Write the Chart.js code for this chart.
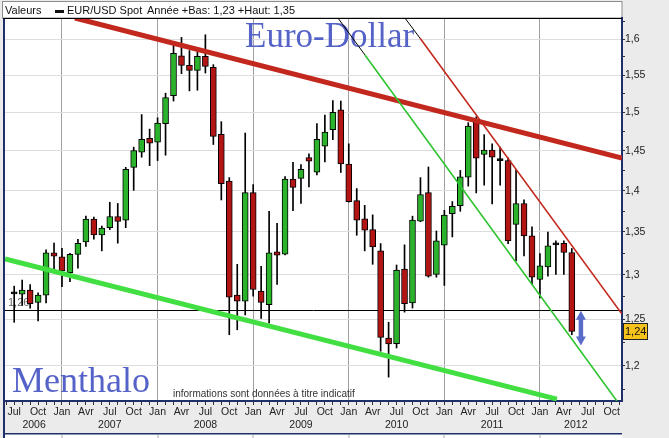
<!DOCTYPE html>
<html><head><meta charset="utf-8">
<script src="https://cdn.jsdelivr.net/npm/chart.js@4/dist/chart.umd.min.js"></script>
<style>
html,body{margin:0;padding:0;background:#ebebeb;}
canvas{display:block;}
</style></head><body>
<canvas id="c" width="669" height="438"></canvas>
<script>
// ---- data (monthly EUR/USD candles) ----
const periods = ['2006-07','2006-08','2006-09','2006-10','2006-11','2006-12',
'2007-01','2007-02','2007-03','2007-04','2007-05','2007-06','2007-07','2007-08','2007-09','2007-10','2007-11','2007-12',
'2008-01','2008-02','2008-03','2008-04','2008-05','2008-06','2008-07','2008-08','2008-09','2008-10','2008-11','2008-12',
'2009-01','2009-02','2009-03','2009-04','2009-05','2009-06','2009-07','2009-08','2009-09','2009-10','2009-11','2009-12',
'2010-01','2010-02','2010-03','2010-04','2010-05','2010-06','2010-07','2010-08','2010-09','2010-10','2010-11','2010-12',
'2011-01','2011-02','2011-03','2011-04','2011-05','2011-06','2011-07','2011-08','2011-09','2011-10','2011-11','2011-12',
'2012-01','2012-02','2012-03','2012-04','2012-05'];
const opens = [1.2790,1.2780,1.2826,1.2689,1.2769,1.3254,
1.3209,1.3024,1.3237,1.3383,1.3654,1.3465,1.3551,1.3685,1.3640,1.4291,1.4483,1.4661,
1.4610,1.4852,1.5223,1.5764,1.5634,1.5565,1.5759,1.5606,1.4712,1.4120,1.2769,1.2701,
1.3976,1.2814,1.2663,1.3266,1.3238,1.4145,1.4153,1.4415,1.4231,1.4560,1.4771,1.5032,
1.4333,1.3878,1.3657,1.3527,1.3277,1.2296,1.2236,1.3066,1.2682,1.3630,1.3976,1.3004,
1.3344,1.3719,1.3815,1.4167,1.4869,1.4453,1.4508,1.4382,1.4376,1.3590,1.3843,1.3453,
1.2947,1.3090,1.3348,1.3367,1.3258];
const highs = [1.2871,1.2939,1.2890,1.2795,1.3289,1.3370,
1.3307,1.3249,1.3413,1.3689,1.3677,1.3571,1.3858,1.3843,1.4291,1.4547,1.4970,1.4780,
1.4928,1.5255,1.5921,1.6023,1.5838,1.5843,1.6060,1.5643,1.4877,1.4162,1.3121,1.4729,
1.4075,1.3098,1.3748,1.3602,1.4175,1.4355,1.4325,1.4462,1.4852,1.4962,1.5155,1.5150,
1.4590,1.4026,1.3820,1.3705,1.3363,1.2468,1.3113,1.3348,1.3689,1.4162,1.4295,1.3512,
1.3760,1.3866,1.4252,1.4864,1.4941,1.4708,1.4590,1.4547,1.4410,1.4261,1.3886,1.3562,
1.3246,1.3500,1.3395,1.3395,1.3305];
const lows = [1.2468,1.2655,1.2625,1.2482,1.2682,1.3060,
1.2865,1.2921,1.3075,1.3328,1.3414,1.3277,1.3528,1.3367,1.3551,1.4004,1.4419,1.4312,
1.4376,1.4444,1.5150,1.5519,1.5286,1.5295,1.5528,1.4581,1.3886,1.2332,1.2386,1.2549,
1.2758,1.2511,1.2457,1.2890,1.3231,1.3756,1.3843,1.4047,1.4197,1.4359,1.4644,1.4226,
1.3860,1.3461,1.3277,1.3121,1.2154,1.1880,1.2189,1.2580,1.2625,1.3622,1.2973,1.2973,
1.2879,1.3441,1.3748,1.4056,1.3972,1.4068,1.3839,1.4068,1.3363,1.3160,1.3219,1.2890,
1.2739,1.2985,1.3004,1.3004,1.2332];
const closes = [1.2784,1.2826,1.2674,1.2769,1.3254,1.3215,
1.3044,1.3237,1.3366,1.3654,1.3465,1.3547,1.3685,1.3626,1.4265,1.4504,1.4648,1.4597,
1.4860,1.5195,1.5801,1.5634,1.5565,1.5759,1.5620,1.4686,1.4085,1.2746,1.2701,1.3976,
1.2833,1.2689,1.3254,1.3227,1.4145,1.4040,1.4266,1.4367,1.4648,1.4742,1.5000,1.4333,
1.3866,1.3642,1.3520,1.3324,1.2304,1.2232,1.3055,1.2674,1.3642,1.3953,1.2985,1.3395,
1.3701,1.3807,1.4171,1.4818,1.4406,1.4508,1.4419,1.4376,1.3395,1.3843,1.3453,1.2973,
1.3102,1.3336,1.3355,1.3258,1.2368];

// tick labels
const monthLabels = ['Jan','Avr','Jul','Oct'];
const years = [2006,2007,2008,2009,2010,2011,2012];
const yTicks = [1.175,1.2,1.225,1.25,1.275,1.3,1.325,1.35,1.375,1.4,1.425,1.45,1.475,1.5,1.525,1.55,1.575,1.6,1.625];

// trend lines drawn on the chart (month index from Jul 2006, price)
const channelTopX = [7.63, 76.3],   channelTopY = [1.6299, 1.4408];
const channelLowX = [-1.155, 68.13], channelLowY = [1.3182, 1.1653];
const redFastX = [50.93, 76.3],     redFastY = [1.6014, 1.2559];
const redFastHandleX = [49.05, 50.93], redFastHandleY = [1.6299, 1.6014];
const greenFastX = [44.03, 75.66],  greenFastY = [1.5777, 1.1633];
const greenFastHandleX = [40.64, 44.03], greenFastHandleY = [1.6299, 1.5777];
const supportLevel = 1.26;
const arrowX = 71.14, arrowFrom = 1.2595, arrowTo = 1.2215;

// ---- helpers ----
const X_MIN = -1.155, X_MAX = 76.3, Y_MIN = 1.1633, Y_MAX = 1.6299;
const mIndex = p => { const [y, mo] = p.split('-').map(Number); return (y - 2006) * 12 + (mo - 7); };
const fmt = v => String(parseFloat(v.toFixed(3))).replace('.', ',');
const isMajor = v => v != null && Math.abs(v * 20 - Math.round(v * 20)) < 1e-6;
const moy = m => ((m + 6) % 12 + 12) % 12;
const pts = (xs, ys) => xs.map((x, i) => ({x, y: ys[i]}));

const GREEN = '#2bb42b', RED = '#b31515';
const xs = periods.map(mIndex);
const wickData = xs.map((x, i) => ({x, y: [lows[i], highs[i]]}));
const bodyData = xs.map((x, i) => ({x, y: [opens[i], closes[i]]}));
const bodyColors = xs.map((x, i) => Math.abs(closes[i] - opens[i]) < 0.0012 ? '#000' : (closes[i] >= opens[i] ? GREEN : RED));

const y2012 = periods.map((p, i) => p.startsWith('2012') ? i : -1).filter(i => i >= 0);
const yearLow = Math.min(...y2012.map(i => lows[i]));
const yearHigh = Math.max(...y2012.map(i => highs[i]));
const lastClose = closes[closes.length - 1];

const FONT = 'Liberation Sans';
const NAVY = '#1f2f6c';
const TITLE_BLUE = '#5563c8';

const decor = {
  id: 'decor',
  beforeDraw(chart) {
    const ctx = chart.ctx, a = chart.chartArea;
    ctx.save();
    ctx.fillStyle = '#ebebeb'; ctx.fillRect(0, 0, chart.width, chart.height);
    ctx.fillStyle = '#fff';
    ctx.fillRect(a.left, a.top, a.right - a.left, a.bottom - a.top);
    ctx.fillRect(2, 1, a.right - 2, a.top - 1);
    ctx.strokeStyle = '#8c8c8c'; ctx.lineWidth = 1;
    ctx.strokeRect(2.5, 1.5, a.right - 2.5, a.top - 1.5);
    // header
    ctx.fillStyle = '#111'; ctx.font = '11px "' + FONT + '"'; ctx.textBaseline = 'alphabetic';
    ctx.fillText('Valeurs', 5, 14);
    ctx.fillRect(55, 10, 9, 3);
    ctx.fillText('EUR/USD Spot', 67, 14);
    ctx.fillText('Année +Bas: ' + fmt(Math.floor(yearLow * 100) / 100) + ' +Haut: ' + fmt(Math.round(yearHigh * 100) / 100), 147, 14);
    // bottom panel
    ctx.fillStyle = '#fff'; ctx.fillRect(3, 434, a.right - 3, 4);
    ctx.fillStyle = NAVY; ctx.fillRect(3, 433, a.right - 3, 1.5);
    ctx.fillStyle = '#a9a9a9';
    const xs_ = chart.scales.x;
    for (let m = Math.ceil(X_MIN); m <= X_MAX; m++) if (moy(m) === 0) ctx.fillRect(Math.round(xs_.getPixelForValue(m)) - 0.5, 435, 1, 3);
    ctx.restore();
  },
  beforeDatasetsDraw(chart) {
    const ctx = chart.ctx, a = chart.chartArea, y = chart.scales.y;
    ctx.save();
    ctx.fillStyle = TITLE_BLUE;
    ctx.textBaseline = 'alphabetic';
    ctx.font = '35px "Liberation Serif"';
    ctx.fillText('Euro-Dollar', 245, 47);
    ctx.font = '36px "Liberation Serif"';
    ctx.fillText('Menthalo', 12, 392);
    ctx.fillStyle = '#333'; ctx.font = '10px "' + FONT + '"';
    ctx.fillText('informations sont données à titre indicatif', 173, 397);
    // support level line + label
    const py = Math.round(y.getPixelForValue(supportLevel)) + 0.5;
    ctx.fillStyle = '#666'; ctx.font = '11px "' + FONT + '"'; ctx.textBaseline = 'middle';
    ctx.fillText(fmt(supportLevel), 8, py - 8);
    ctx.strokeStyle = '#000'; ctx.lineWidth = 1;
    ctx.beginPath(); ctx.moveTo(a.left, py); ctx.lineTo(a.right, py); ctx.stroke();
    ctx.restore();
  },
  afterDraw(chart) {
    const ctx = chart.ctx, a = chart.chartArea, x = chart.scales.x, y = chart.scales.y;
    ctx.save();
    // frame
    ctx.fillStyle = NAVY; ctx.fillRect(3, a.top, 2, 438 - a.top);
    ctx.fillStyle = '#000'; ctx.fillRect(3, a.top, a.right - 3, 1);
    // year labels
    ctx.fillStyle = '#222'; ctx.font = '10.5px "' + FONT + '"'; ctx.textAlign = 'center'; ctx.textBaseline = 'middle';
    years.forEach(yr => {
      const jan = (yr - 2006) * 12 - 6;
      const s = Math.max(jan, Math.ceil(X_MIN)), e = Math.min(jan + 12, Math.floor(X_MAX) - 1);
      ctx.fillText(String(yr), x.getPixelForValue((s + e) / 2), 425.5);
    });
    // last price badge
    const ly = y.getPixelForValue(lastClose);
    ctx.fillStyle = '#f6c21c'; ctx.fillRect(a.right + 1, Math.round(ly) - 8, 24, 16);
    ctx.strokeStyle = '#222'; ctx.lineWidth = 1; ctx.strokeRect(a.right + 1.5, Math.round(ly) - 7.5, 24, 16);
    ctx.fillStyle = '#111'; ctx.textAlign = 'left'; ctx.font = '11px "' + FONT + '"';
    ctx.fillText(fmt(Math.round(lastClose * 100) / 100), a.right + 3, Math.round(ly) + 0.5);
    // double arrow
    const ax = x.getPixelForValue(arrowX), ay1 = y.getPixelForValue(arrowFrom), ay2 = y.getPixelForValue(arrowTo);
    ctx.strokeStyle = '#5a6bc9'; ctx.fillStyle = '#5a6bc9'; ctx.lineWidth = 4.5;
    ctx.beginPath(); ctx.moveTo(ax, ay1 + 6); ctx.lineTo(ax, ay2 - 6); ctx.stroke();
    ctx.beginPath(); ctx.moveTo(ax, ay1); ctx.lineTo(ax - 5, ay1 + 9); ctx.lineTo(ax + 5, ay1 + 9); ctx.closePath(); ctx.fill();
    ctx.beginPath(); ctx.moveTo(ax, ay2); ctx.lineTo(ax - 5, ay2 - 9); ctx.lineTo(ax + 5, ay2 - 9); ctx.closePath(); ctx.fill();
    ctx.restore();
  }
};

const lineDs = (xs_, ys_, color, width, order) => ({
  type: 'line', data: pts(xs_, ys_), borderColor: color, borderWidth: width,
  pointRadius: 0, fill: false, tension: 0, order, borderCapStyle: 'butt'
});

new Chart(document.getElementById('c'), {
  type: 'bar',
  data: {
    datasets: [
      { data: wickData, backgroundColor: '#000', borderWidth: 0, barThickness: 1, grouped: false, order: 5 },
      { data: bodyData, backgroundColor: bodyColors, borderColor: '#000', borderWidth: 1, borderSkipped: false,
        barThickness: 6, minBarLength: 2, grouped: false, order: 4 },
      lineDs(channelLowX, channelLowY, '#41df41', 5, 3),
      lineDs(channelTopX, channelTopY, '#c2281d', 5, 3),
      lineDs(greenFastX, greenFastY, '#2fc42f', 1.6, 2),
      lineDs(greenFastHandleX, greenFastHandleY, '#000', 1, 2),
      lineDs(redFastX, redFastY, '#c3291e', 1.6, 2),
      lineDs(redFastHandleX, redFastHandleY, '#000', 1, 2)
    ]
  },
  options: {
    responsive: false, animation: false, devicePixelRatio: 1,
    layout: { padding: { left: 5, top: 18, right: 0, bottom: 0 } },
    plugins: { legend: { display: false }, tooltip: { enabled: false } },
    scales: {
      x: {
        type: 'linear', min: X_MIN, max: X_MAX, bounds: 'data', offset: false,
        afterBuildTicks: s => { const t = []; for (let m = Math.ceil(X_MIN); m <= Math.floor(X_MAX); m++) t.push({ value: m }); s.ticks = t; },
        afterFit: s => { s.height = 37; },
        ticks: { autoSkip: false, maxRotation: 0, minRotation: 0, padding: 1, color: '#222',
          font: { family: FONT, size: 10.5 },
          callback: v => { const k = moy(v); return k % 3 === 0 ? monthLabels[k / 3] : ''; } },
        grid: { offset: false, color: c => (c.tick && moy(c.tick.value) === 0) ? '#a0a0a0' : 'rgba(0,0,0,0)',
          tickColor: '#333', tickLength: 4, lineWidth: 1 },
        border: { color: NAVY, width: 2 }
      },
      y: {
        type: 'logarithmic', position: 'right', min: Y_MIN, max: Y_MAX, bounds: 'data',
        afterBuildTicks: s => { s.ticks = yTicks.map(v => ({ value: v })); },
        afterFit: s => { s.width = 47; },
        ticks: { autoSkip: false, padding: 0, color: '#222', font: { family: FONT, size: 10.5 },
          callback: v => isMajor(v) ? fmt(v) : '' },
        grid: { color: c => (c.tick && isMajor(c.tick.value)) ? '#dddddd' : 'rgba(0,0,0,0)',
          tickColor: '#333', tickLength: 3, lineWidth: 1 },
        border: { color: NAVY, width: 2 }
      }
    }
  },
  plugins: [decor]
});
</script>
</body></html>
